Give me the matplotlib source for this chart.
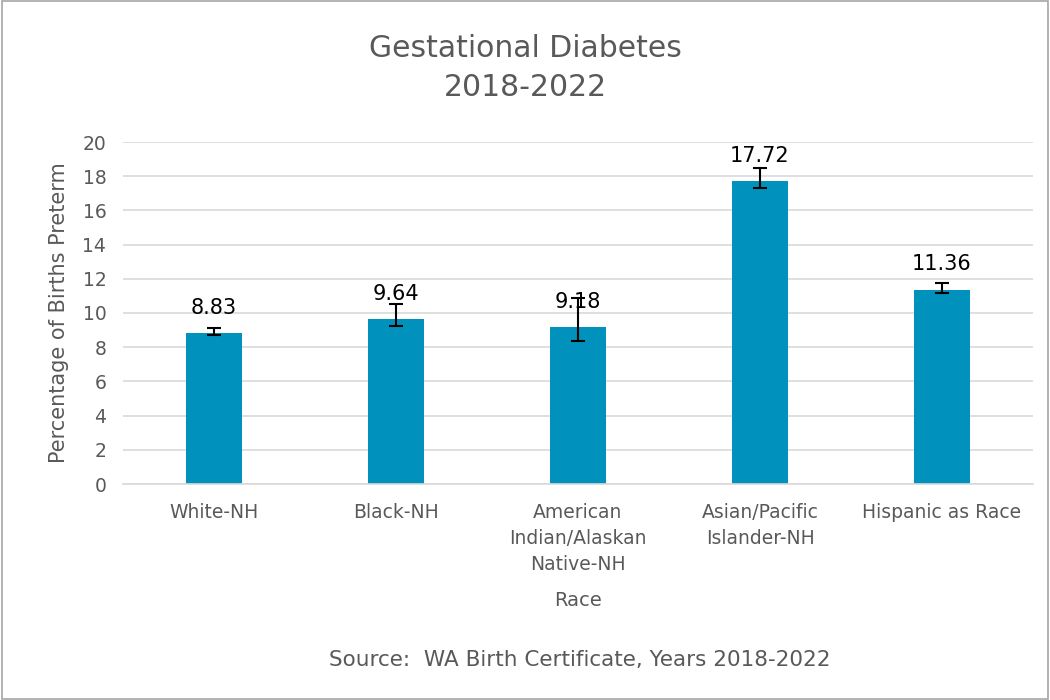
import matplotlib.pyplot as plt
import numpy as np

categories = ["White-NH", "Black-NH", "American\nIndian/Alaskan\nNative-NH",
              "Asian/Pacific\nIslander-NH", "Hispanic as Race"]
rates = [8.83, 9.64, 9.18, 17.72, 11.36]
lower_ci = [8.71, 9.24, 8.36, 17.33, 11.15]
upper_ci = [9.10, 10.50, 10.86, 18.50, 11.74]

BAR_COLOR = "#0092BC"
TEXT_GRAY = "#595959"

plt.rcParams['font.family'] = ['DejaVu Sans']

fig = plt.figure(figsize=(10.5, 7), dpi=100)
ax = fig.add_axes([123 / 1050, 1 - 484 / 700, (1033 - 123) / 1050, (484 - 142) / 700])

x = np.arange(len(categories))
yerr = [np.array(rates) - np.array(lower_ci), np.array(upper_ci) - np.array(rates)]
ax.bar(x, rates, width=0.31, color=BAR_COLOR, zorder=2)
ax.errorbar(x, rates, yerr=yerr, fmt='none', ecolor='black', elinewidth=1.5,
            capsize=5, capthick=1.5, zorder=3)

# value labels sit a little above each bar
for xi, v in zip(x, rates):
    ax.text(xi, v + 0.9, "{:.2f}".format(v), ha='center', va='bottom',
            fontsize=15, color='black', zorder=4)

ax.set_ylim(0, 20)
ax.set_xlim(-0.5, len(categories) - 0.5)
ax.set_yticks(np.arange(0, 21, 2))
ax.set_xticks(x)
ax.set_xticklabels(categories, fontsize=13.5, color=TEXT_GRAY, linespacing=1.45)
ax.tick_params(axis='y', labelsize=13.5, labelcolor=TEXT_GRAY, length=0, pad=12)
ax.tick_params(axis='x', length=0, pad=14)
ax.yaxis.grid(color='#D9D9D9', linewidth=1.2)
ax.set_axisbelow(True)
for s in ['top', 'right', 'left']:
    ax.spines[s].set_visible(False)
ax.spines['bottom'].set_color('#D9D9D9')
ax.spines['bottom'].set_linewidth(1.2)

ax.set_ylabel("Percentage of Births Preterm", fontsize=15, color=TEXT_GRAY, labelpad=10)
ax.set_xlabel("Race", fontsize=14, color=TEXT_GRAY, labelpad=12)

fig.text(0.5, 1 - 68 / 700, "Gestational Diabetes\n2018-2022", ha='center', va='center',
         fontsize=21.5, color=TEXT_GRAY, linespacing=1.45)
fig.text(580 / 1050, 1 - 660 / 700, "Source:  WA Birth Certificate, Years 2018-2022",
         ha='center', va='center', fontsize=15.5, color=TEXT_GRAY)

border = plt.Rectangle((0.002, 0.002), 0.996, 0.996, transform=fig.transFigure,
                       fill=False, edgecolor='#A6A6A6', linewidth=1.2)
fig.patches.append(border)

fig.savefig("out.png", dpi=100)
